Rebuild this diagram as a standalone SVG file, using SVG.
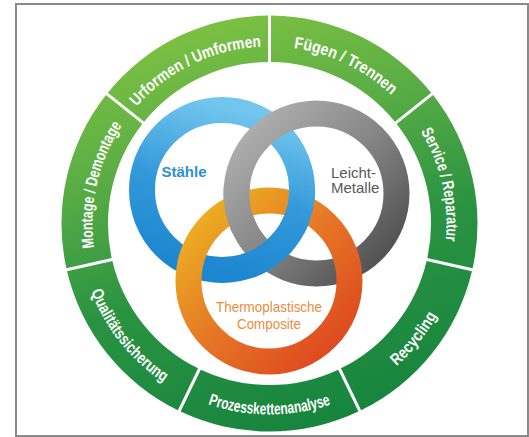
<svg xmlns="http://www.w3.org/2000/svg" xmlns:xlink="http://www.w3.org/1999/xlink" width="529" height="437" viewBox="0 0 529 437">
  <defs>
    <style>
      .seg { fill: url(#g-green); }
      .seg-label { font-family: "Liberation Sans", Arial, sans-serif; font-size: 16.5px; font-weight: bold; fill: #ffffff; }
      .ring { fill: none; stroke-width: 26; }
      .ring-blue { stroke: url(#g-blue); }
      .ring-gray { stroke: url(#g-gray); }
      .ring-orange { stroke: url(#g-orange); }
      .mat-label { font-family: "Liberation Sans", Arial, sans-serif; }
    </style>
    <linearGradient id="g-green" gradientUnits="userSpaceOnUse" x1="200" y1="10" x2="330" y2="430">
      <stop offset="0" stop-color="#80c342"/>
      <stop offset="0.3" stop-color="#5aad45"/>
      <stop offset="0.6" stop-color="#2a9342"/>
      <stop offset="1" stop-color="#16843e"/>
    </linearGradient>
    <linearGradient id="g-blue" x1="0.6" y1="0" x2="0.35" y2="1">
      <stop offset="0" stop-color="#72c6ee"/>
      <stop offset="0.5" stop-color="#3399da"/>
      <stop offset="1" stop-color="#1c86cf"/>
    </linearGradient>
    <linearGradient id="g-gray" x1="0" y1="0" x2="1" y2="1">
      <stop offset="0" stop-color="#b6b6b6"/>
      <stop offset="0.5" stop-color="#858585"/>
      <stop offset="1" stop-color="#474747"/>
    </linearGradient>
    <linearGradient id="g-orange" x1="0" y1="0" x2="1" y2="1">
      <stop offset="0" stop-color="#edba22"/>
      <stop offset="0.5" stop-color="#e67526"/>
      <stop offset="1" stop-color="#dc411f"/>
    </linearGradient>
    <!-- baselines for the curved segment labels -->
    <path id="tp-urformen" d="M131.116,113.142 A177,177 0 0 1 269.5,46.5"/>
    <path id="tp-fuegen" d="M269.5,46.5 A177,177 0 0 1 407.884,113.142"/>
    <path id="tp-service" d="M407.884,113.142 A177,177 0 0 1 442.062,262.886"/>
    <path id="tp-montage" d="M96.938,262.886 A177,177 0 0 1 131.116,113.142"/>
    <path id="tp-recycling" d="M352.372,395.585 A191,191 0 0 0 455.711,266.002"/>
    <path id="tp-prozess" d="M186.628,395.585 A191,191 0 0 0 352.372,395.585"/>
    <path id="tp-qualitaet" d="M83.289,266.002 A191,191 0 0 0 186.628,395.585"/>
    <!-- regions where a ring passes over the one drawn after it -->
    <clipPath id="clip-blue-over-gray"><circle cx="266.9" cy="256.2" r="26"/></clipPath>
    <clipPath id="clip-blue-over-orange"><circle cx="300.2" cy="207.3" r="26"/></clipPath>
    <clipPath id="clip-gray-over-orange"><circle cx="237.7" cy="207.4" r="26"/></clipPath>
  </defs>

  <!-- frame -->
  <rect x="16" y="4" width="512" height="432" fill="#ffffff" stroke="#8a8a8a" stroke-width="2"/>

  <!-- outer process ring: seven segments -->
  <g id="seg-urformen">
    <path class="seg" d="M107.814,92.641 A208,208 0 0 1 268,15.5 L268,62 A161.5,161.5 0 0 0 144.169,121.633 Z"/>
    <text class="seg-label" text-anchor="middle"><textPath xlink:href="#tp-urformen" href="#tp-urformen" startOffset="50%" textLength="142" lengthAdjust="spacingAndGlyphs">Urformen / Umformen</textPath></text>
  </g>
  <g id="seg-fuegen">
    <path class="seg" d="M271,15.5 A208,208 0 0 1 431.186,92.641 L394.831,121.633 A161.5,161.5 0 0 0 271,62 Z"/>
    <text class="seg-label" text-anchor="middle"><textPath xlink:href="#tp-fuegen" href="#tp-fuegen" startOffset="50%" textLength="110" lengthAdjust="spacingAndGlyphs">Fügen / Trennen</textPath></text>
  </g>
  <g id="seg-service">
    <path class="seg" d="M433.056,94.987 A208,208 0 0 1 472.619,268.322 L427.285,257.975 A161.5,161.5 0 0 0 396.701,123.979 Z"/>
    <text class="seg-label" text-anchor="middle"><textPath xlink:href="#tp-service" href="#tp-service" startOffset="50%" textLength="114" lengthAdjust="spacingAndGlyphs">Service / Reparatur</textPath></text>
  </g>
  <g id="seg-recycling">
    <path class="seg" d="M471.951,271.246 A208,208 0 0 1 361.099,410.251 L340.923,368.355 A161.5,161.5 0 0 0 426.617,260.899 Z"/>
    <text class="seg-label" text-anchor="middle"><textPath xlink:href="#tp-recycling" href="#tp-recycling" startOffset="50%" textLength="65" lengthAdjust="spacingAndGlyphs">Recycling</textPath></text>
  </g>
  <g id="seg-prozess">
    <path class="seg" d="M358.397,411.553 A208,208 0 0 1 180.603,411.553 L200.779,369.657 A161.5,161.5 0 0 0 338.221,369.657 Z"/>
    <text class="seg-label" text-anchor="middle"><textPath xlink:href="#tp-prozess" href="#tp-prozess" startOffset="50%" textLength="125" lengthAdjust="spacingAndGlyphs">Prozesskettenanalyse</textPath></text>
  </g>
  <g id="seg-qualitaet">
    <path class="seg" d="M177.901,410.251 A208,208 0 0 1 67.049,271.246 L112.383,260.899 A161.5,161.5 0 0 0 198.077,368.355 Z"/>
    <text class="seg-label" text-anchor="middle"><textPath xlink:href="#tp-qualitaet" href="#tp-qualitaet" startOffset="50%" textLength="118" lengthAdjust="spacingAndGlyphs">Qualitätssicherung</textPath></text>
  </g>
  <g id="seg-montage">
    <path class="seg" d="M66.381,268.322 A208,208 0 0 1 105.944,94.987 L142.299,123.979 A161.5,161.5 0 0 0 111.715,257.975 Z"/>
    <text class="seg-label" text-anchor="middle"><textPath xlink:href="#tp-montage" href="#tp-montage" startOffset="50%" textLength="128" lengthAdjust="spacingAndGlyphs">Montage / Demontage</textPath></text>
  </g>

  <!-- material rings -->
  <g id="ring-staehle">
    <circle class="ring ring-blue" cx="222" cy="190" r="80"/>
    <text class="mat-label" x="184" y="177" text-anchor="middle" font-size="15" font-weight="bold" fill="#2c8fd3">Stähle</text>
  </g>
  <g id="ring-leichtmetalle">
    <circle class="ring ring-gray" cx="316.5" cy="193.5" r="80"/>
    <text class="mat-label" x="331" y="177.5" font-size="15" fill="#595959">Leicht-</text>
    <text class="mat-label" x="331" y="193" font-size="15" fill="#595959">Metalle</text>
  </g>
  <g id="ring-composite">
    <circle class="ring ring-orange" cx="269" cy="281" r="80.5"/>
    <text class="mat-label" x="269" y="311.5" text-anchor="middle" font-size="14.5" fill="#ef8a3e" textLength="106" lengthAdjust="spacingAndGlyphs">Thermoplastische</text>
    <text class="mat-label" x="269" y="329" text-anchor="middle" font-size="14.5" fill="#ef8a3e" textLength="64" lengthAdjust="spacingAndGlyphs">Composite</text>
  </g>

  <!-- interlacing: ring pieces that lie on top at their crossings -->
  <g id="ring-crossings">
    <circle class="ring ring-blue" cx="222" cy="190" r="80" clip-path="url(#clip-blue-over-gray)"/>
    <circle class="ring ring-blue" cx="222" cy="190" r="80" clip-path="url(#clip-blue-over-orange)"/>
    <circle class="ring ring-gray" cx="316.5" cy="193.5" r="80" clip-path="url(#clip-gray-over-orange)"/>
  </g>
</svg>
